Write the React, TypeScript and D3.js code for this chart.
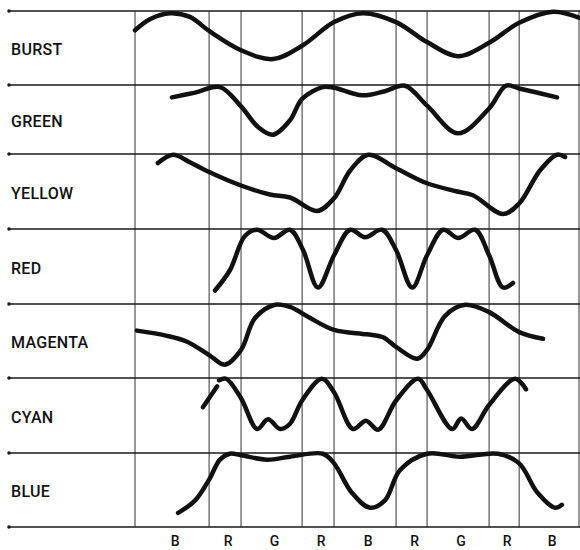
import React from "react";
import * as d3 from "d3";

type Pt = [number, number];

// Row names (top to bottom)
const rows = ["BURST", "GREEN", "YELLOW", "RED", "MAGENTA", "CYAN", "BLUE"];

// Time-slot boundaries (time units) and slot labels along the bottom
const slotEdges = [0, 2.39, 3.42, 5.39, 6.42, 8.42, 9.42, 11.42, 12.39, 14.32];
const slotLabels = ["B", "R", "G", "R", "B", "R", "G", "R", "B"];

// Waveforms: [time, level] where level 1 = top line of the row, 0 = bottom line
const burst: Pt[] = [
  [0, 0.74], [0.48, 0.89], [1.13, 0.97], [1.77, 0.92], [2.39, 0.73], [3.42, 0.47],
  [4.45, 0.35], [5.39, 0.53], [6.42, 0.85], [7.35, 0.97], [8.42, 0.85], [9.42, 0.58],
  [10.42, 0.39], [11.42, 0.57], [12.39, 0.84], [13.48, 0.99], [14.32, 0.91],
];
const green: Pt[] = [
  [1.19, 0.82], [1.94, 0.89], [2.74, 0.97], [3.42, 0.69], [3.97, 0.39], [4.45, 0.28],
  [5.0, 0.49], [5.39, 0.8], [6.06, 0.97], [6.42, 0.96], [7.32, 0.85], [8.06, 0.91],
  [8.71, 0.99], [9.42, 0.7], [10.42, 0.3], [11.42, 0.66], [11.97, 0.99], [12.39, 0.95],
  [13.61, 0.82],
];
const yellow: Pt[] = [
  [0.74, 0.88], [1.23, 0.99], [1.77, 0.89], [2.39, 0.76], [3.42, 0.58], [4.35, 0.46],
  [5.0, 0.42], [5.87, 0.24], [6.42, 0.41], [6.94, 0.78], [7.52, 0.99], [8.42, 0.81],
  [9.42, 0.61], [10.39, 0.5], [10.9, 0.45], [11.87, 0.2], [12.39, 0.34], [13.06, 0.78],
  [13.61, 0.99], [13.87, 0.96],
];
const red: Pt[] = [
  [2.58, 0.18], [3.06, 0.45], [3.55, 0.91], [3.94, 0.99], [4.48, 0.88], [5.0, 0.99],
  [5.42, 0.72], [5.9, 0.22], [6.42, 0.65], [6.94, 0.99], [7.42, 0.89], [7.97, 0.99],
  [8.42, 0.72], [8.94, 0.22], [9.42, 0.65], [9.94, 0.99], [10.42, 0.88], [10.97, 0.99],
  [11.42, 0.65], [11.87, 0.22], [12.19, 0.28],
];
const magenta: Pt[] = [
  [0.06, 0.64], [1.03, 0.57], [1.68, 0.49], [2.39, 0.31], [2.9, 0.18], [3.42, 0.38],
  [3.87, 0.81], [4.52, 0.99], [5.0, 0.96], [5.65, 0.81], [6.42, 0.65], [7.48, 0.59],
  [8.0, 0.55], [8.42, 0.42], [9.1, 0.26], [9.42, 0.38], [10.0, 0.84], [10.65, 0.99],
  [11.42, 0.89], [12.39, 0.62], [13.16, 0.53],
];
const cyanDash: Pt[] = [[2.19, 0.61], [2.65, 0.89]];
const cyan: Pt[] = [
  [2.71, 0.97], [2.94, 0.99], [3.42, 0.73], [3.94, 0.32], [4.29, 0.45], [4.68, 0.32],
  [5.0, 0.39], [5.39, 0.7], [6.03, 0.99], [6.42, 0.81], [7.03, 0.32], [7.45, 0.43],
  [7.84, 0.31], [8.42, 0.7], [9.13, 0.99], [9.42, 0.84], [10.23, 0.32], [10.52, 0.46],
  [10.87, 0.32], [11.42, 0.64], [12.26, 0.99], [12.61, 0.85],
];
const blue: Pt[] = [
  [1.39, 0.19], [1.94, 0.36], [2.39, 0.64], [2.74, 0.91], [3.06, 0.99], [3.42, 0.97],
  [4.26, 0.91], [5.0, 0.95], [6.06, 0.99], [6.42, 0.86], [7.0, 0.46], [7.58, 0.26],
  [8.06, 0.36], [8.55, 0.77], [9.42, 0.99], [10.48, 0.95], [11.71, 0.99], [12.39, 0.86],
  [12.97, 0.47], [13.55, 0.26], [13.77, 0.3],
];

const traces: { row: number; pts: Pt[] }[] = [
  { row: 0, pts: burst },
  { row: 1, pts: green },
  { row: 2, pts: yellow },
  { row: 3, pts: red },
  { row: 4, pts: magenta },
  { row: 5, pts: cyanDash },
  { row: 5, pts: cyan },
  { row: 6, pts: blue },
];

const W = 580;
const H = 550;

export default function App() {
  const x = d3.scaleLinear().domain([0, 14.32]).range([135, 579]);
  // piecewise row scale: row boundary index -> pixel
  const y = d3
    .scaleLinear()
    .domain([0, 1, 2, 3, 4, 5, 6, 7])
    .range([11, 85, 154, 229, 304, 378, 453, 527]);

  const line = (row: number) =>
    d3
      .line<Pt>()
      .x((d) => x(d[0]))
      .y((d) => y(row + 1 - d[1]))
      .curve(d3.curveCatmullRom.alpha(0.5));

  const rowLines = d3.range(rows.length + 1);
  const labelFont = "Roboto, 'Liberation Sans', sans-serif";

  return (
    <svg
      width={W}
      height={H}
      style={{ position: "absolute", left: 0, top: 0, background: "#fff" }}
    >
      <rect width={W} height={H} fill="#fff" />
      {/* vertical slot lines */}
      {slotEdges.map((t, i) => (
        <line
          key={"v" + i}
          x1={x(t)}
          x2={x(t)}
          y1={y(0)}
          y2={y(rows.length)}
          stroke="#333"
          strokeWidth={1}
        />
      ))}
      {/* horizontal row lines */}
      {rowLines.map((i) => (
        <g key={"h" + i}>
          <line x1={8} x2={W} y1={y(i)} y2={y(i)} stroke="#1a1a1a" strokeWidth={1.7} />
          <circle cx={9} cy={y(i)} r={1.8} fill="#1a1a1a" />
        </g>
      ))}
      {/* row labels */}
      {rows.map((r, i) => (
        <text
          key={r}
          x={11}
          y={(y(i) + y(i + 1)) / 2 + 7}
          fontFamily={labelFont}
          fontWeight={500}
          fontSize={16}
          letterSpacing={0.3}
          fill="#111"
        >
          {r}
        </text>
      ))}
      {/* waveforms */}
      {traces.map((tr, i) => (
        <path
          key={"w" + i}
          d={line(tr.row)(tr.pts) || ""}
          fill="none"
          stroke="#111"
          strokeWidth={4.5}
          strokeLinecap="round"
          strokeLinejoin="round"
        />
      ))}
      {/* slot labels */}
      {slotLabels.map((s, i) => (
        <text
          key={"s" + i}
          x={(x(slotEdges[i]) + x(slotEdges[i + 1])) / 2 + 3}
          y={546}
          textAnchor="middle"
          fontFamily={labelFont}
          fontWeight={500}
          fontSize={14}
          fill="#111"
        >
          {s}
        </text>
      ))}
    </svg>
  );
}
